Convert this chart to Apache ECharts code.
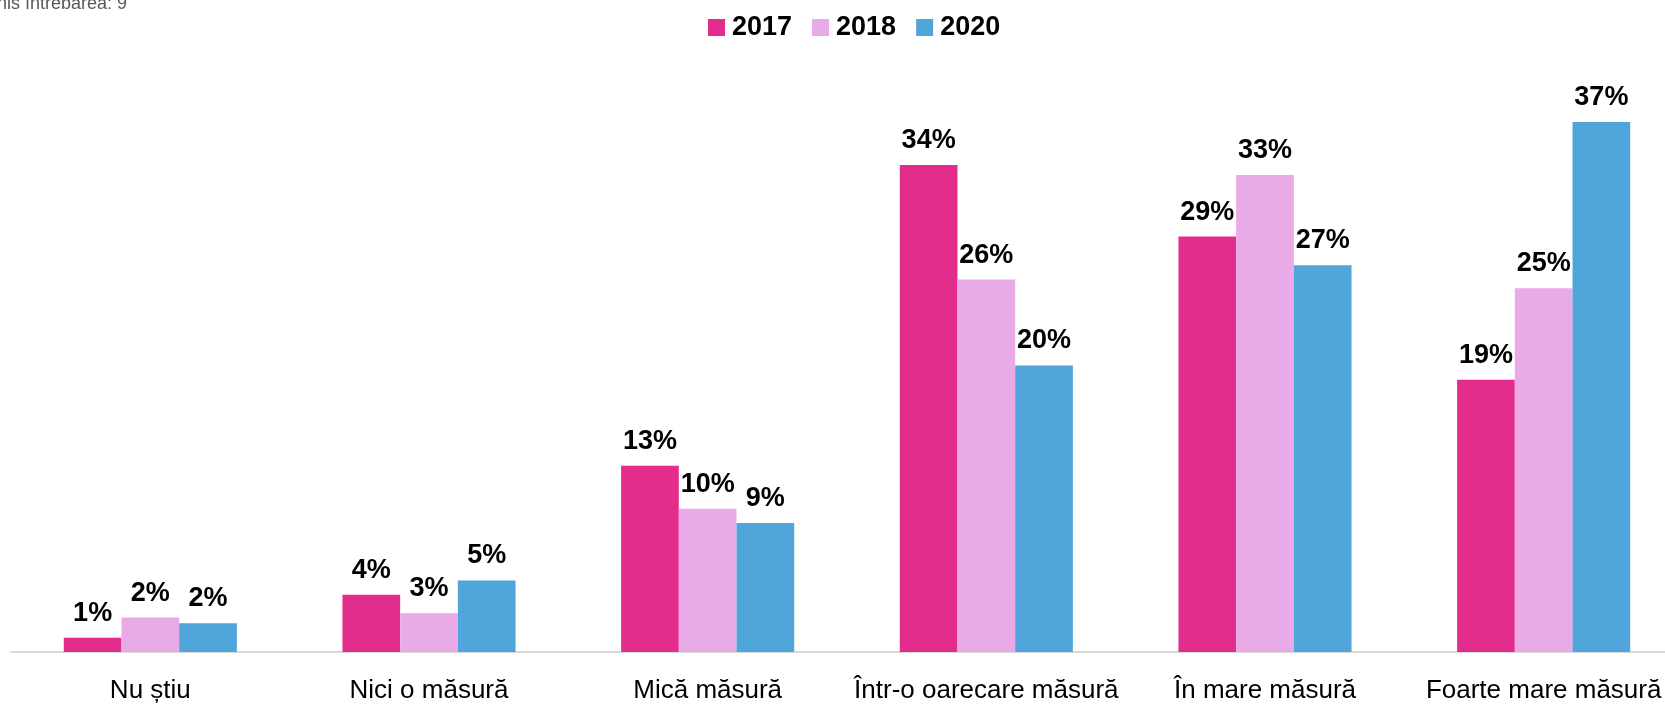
<!DOCTYPE html>
<html>
<head>
<meta charset="utf-8">
<script src="https://cdn.jsdelivr.net/npm/echarts@6/dist/echarts.min.js"></script>
<style>
html,body{margin:0;padding:0;background:#fff;}
#chart{width:1665px;height:707px;}
</style>
</head>
<body>
<div id="chart"></div>
<script>
const categories = ['Nu știu', 'Nici o măsură', 'Mică măsură', 'Într-o oarecare măsură', 'În mare măsură', 'Foarte mare măsură'];
const seriesNames = ['2017', '2018', '2020'];
const values2017 = [1, 4, 13, 34, 29, 19];
const values2018 = [2.4, 2.7, 10, 26, 33.3, 25.4];
const values2020 = [2, 5, 9, 20, 27, 37];
const colors = ['#E32D8D', '#E9AAE8', '#50A6DA'];
const noteText = 'nis întrebarea: 9';

const FONT = '"Liberation Sans Narrow", "Arial Narrow", "Liberation Sans", Arial, sans-serif';

const chart = echarts.init(document.getElementById('chart'));
const allValues = [values2017, values2018, values2020];

chart.setOption({
  animation: false,
  color: colors,
  graphic: [{
    type: 'text',
    x: -3,
    y: -5,
    style: {
      text: noteText,
      font: '18px "Liberation Sans", Arial, sans-serif',
      fill: '#595959'
    }
  }],
  legend: {
    left: 703,
    top: 9,
    itemWidth: 17,
    itemHeight: 17,
    itemGap: 20,
    icon: 'rect',
    textStyle: {
      fontFamily: FONT,
      fontSize: 27,
      fontWeight: 'bold',
      color: '#000',
      padding: [0, 0, 0, 2]
    },
    data: seriesNames
  },
  grid: {
    left: 11,
    width: 1672,
    top: 79,
    bottom: 55,
    outerBoundsMode: 'none',
    containLabel: false
  },
  xAxis: {
    type: 'category',
    data: categories,
    axisLine: { show: true, lineStyle: { color: '#D9D9D9', width: 2 } },
    axisTick: { show: false },
    axisLabel: {
      fontFamily: FONT,
      fontSize: 26,
      color: '#000',
      margin: 26,
      interval: 0
    }
  },
  yAxis: {
    type: 'value',
    min: 0,
    max: 40,
    show: false,
    splitLine: { show: false }
  },
  series: seriesNames.map((name, i) => ({
    name: name,
    type: 'bar',
    data: allValues[i],
    barWidth: 57.7,
    barGap: '0%',
    itemStyle: { color: colors[i] },
    label: {
      show: true,
      position: 'top',
      distance: 11,
      fontFamily: FONT,
      fontSize: 27,
      fontWeight: 'bold',
      color: '#000',
      formatter: p => Math.round(p.value) + '%'
    }
  }))
});
</script>
</body>
</html>
